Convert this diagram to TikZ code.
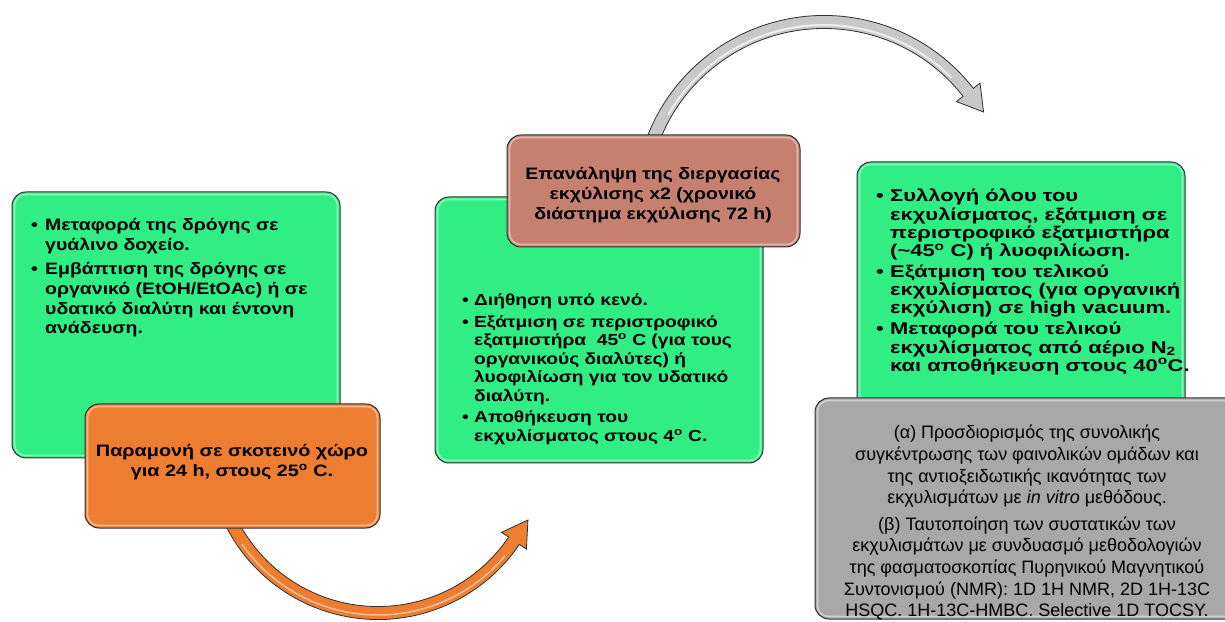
\documentclass[tikz,border=0pt]{standalone}
\usepackage{fontspec}
\setmainfont{Liberation Sans}
\newfontfamily\fA[FakeStretch=1.18]{Liberation Sans}
\newfontfamily\fB[FakeStretch=1.2]{Liberation Sans}
\newfontfamily\fC[FakeStretch=1.29]{Liberation Sans}
\usetikzlibrary{calc}
\definecolor{gfill}{RGB}{48,238,132}
\definecolor{ofill}{RGB}{237,125,49}
\definecolor{bfill}{RGB}{198,128,112}
\definecolor{grayfill}{RGB}{168,168,168}
\definecolor{arrowgray}{RGB}{200,200,200}
\definecolor{edge}{RGB}{45,50,45}
\newcommand{\gbf}{\fA\fontsize{16.5}{19.8}\selectfont\bfseries}
\newcommand{\gbo}{\fB\fontsize{16.5}{20}\selectfont\bfseries}
\newcommand{\gbt}{\fB\fontsize{16}{18.5}\selectfont\bfseries}
\newcommand{\gbs}{\fC\fontsize{17}{18}\selectfont\bfseries}
\newcommand{\gry}{\fontsize{18}{21.6}\selectfont}
\newcommand{\bu}{\textbullet}
\begin{document}
\begin{tikzpicture}[x=1pt,y=1pt,
  box/.style={draw=edge, line width=1pt, rounded corners=14pt, inner sep=0pt},
  hl/.style={draw=white, opacity=0.45, line width=1.6pt, rounded corners=11pt},
  band/.style={draw=edge, line width=0.8pt},
  txt/.style={inner sep=0pt, anchor=base west},
  ctxt/.style={inner sep=0pt, anchor=base}]
\useasboundingbox (0,0) rectangle (1225,621);
\clip (0,0) rectangle (1225,621);
\fill[white] (0,0) rectangle (1225,621);
% arc centres
\coordinate (co) at (378,172);
\coordinate (cg) at (824,416);
% orange curved arrow
\draw[band, fill=ofill]
  ($(co)+(203:170.5pt)$) arc[start angle=203, end angle=326, radius=170.5pt]
  -- ($(co)+(326:179pt)$) -- ($(co)+(326:164pt)+(56:25pt)$) -- ($(co)+(326:149pt)$)
  -- ($(co)+(326:157.5pt)$) arc[start angle=326, end angle=203, radius=157.5pt] -- cycle;
\draw[white, opacity=0.5, line width=1.5pt] ($(co)+(215:166pt)$) arc[start angle=215, end angle=320, radius=166pt];
% gray curved arrow
\draw[band, fill=arrowgray]
  ($(cg)+(162:189.5pt)$) arc[start angle=162, end angle=38, radius=189.5pt]
  -- ($(cg)+(38:198pt)$) -- ($(cg)+(38:183pt)+(-52:25pt)$) -- ($(cg)+(38:168pt)$)
  -- ($(cg)+(38:176.5pt)$) arc[start angle=38, end angle=162, radius=176.5pt] -- cycle;
\draw[white, opacity=0.7, line width=2pt] ($(cg)+(150:180pt)$) arc[start angle=150, end angle=45, radius=180pt];
% boxes
\node[box, fill=gfill, minimum width=328pt, minimum height=266pt] (g1) at (176,296) {};
\draw[hl] ([shift={(3pt,3pt)}]g1.south west) rectangle ([shift={(-3pt,-3pt)}]g1.north east);
\node[box, fill=ofill, minimum width=295pt, minimum height=124pt] (o1) at (232.5,155) {};
\draw[hl] ([shift={(3pt,3pt)}]o1.south west) rectangle ([shift={(-3pt,-3pt)}]o1.north east);
\node[box, fill=gfill, minimum width=328pt, minimum height=266pt] (g2) at (599,291) {};
\draw[hl] ([shift={(3pt,3pt)}]g2.south west) rectangle ([shift={(-3pt,-3pt)}]g2.north east);
\node[box, fill=bfill, minimum width=293pt, minimum height=112pt] (b1) at (653.5,430) {};
\draw[hl] ([shift={(3pt,3pt)}]b1.south west) rectangle ([shift={(-3pt,-3pt)}]b1.north east);
\node[box, fill=gfill, minimum width=328pt, minimum height=258pt] (g3) at (1021,330) {};
\draw[hl] ([shift={(3pt,3pt)}]g3.south west) rectangle ([shift={(-3pt,-3pt)}]g3.north east);
\node[box, fill=grayfill, minimum width=425pt, minimum height=221pt] (r1) at (1027.5,112.5) {};
\draw[hl] ([shift={(3pt,3pt)}]r1.south west) rectangle ([shift={(-3pt,-3pt)}]r1.north east);
% texts
\node[txt] (t1) at (31,390) {\gbf\begin{tabular}[t]{@{}p{14pt}@{}l@{}}
\bu & Μεταφορά της δρόγης σε\\
    & γυάλινο δοχείο.\\[4pt]
\bu & Εμβάπτιση της δρόγης σε\\
    & οργανικό (EtOH/EtOAc) ή σε\\
    & υδατικό διαλύτη και έντονη\\
    & ανάδευση.
\end{tabular}};
\node[ctxt] (t2) at (232,164) {\gbo\begin{tabular}[t]{@{}c@{}}
Παραμονή σε σκοτεινό χώρο\\
για 24 h, στους 25\textsuperscript{o} C.
\end{tabular}};
\node[ctxt] (t3) at (653,441) {\gbf\begin{tabular}[t]{@{}c@{}}
Επανάληψη της διεργασίας\\
εκχύλισης x2 (χρονικό\\
διάστημα εκχύλισης 72 h)
\end{tabular}};
\node[txt] (t4) at (462,315) {\gbt\begin{tabular}[t]{@{}p{12pt}@{}l@{}}
\bu & Διήθηση υπό κενό.\\[3pt]
\bu & Εξάτμιση σε περιστροφικό\\
    & εξατμιστήρα\ \ 45\textsuperscript{o} C (για τους\\
    & οργανικούς διαλύτες) ή\\
    & λυοφιλίωση για τον υδατικό\\
    & διαλύτη.\\[3pt]
\bu & Αποθήκευση του\\
    & εκχυλίσματος στους 4\textsuperscript{o} C.
\end{tabular}};
\node[txt] (t5) at (876,419) {\gbs\begin{tabular}[t]{@{}p{14pt}@{}l@{}}
\bu & Συλλογή όλου του\\
    & εκχυλίσματος, εξάτμιση σε\\
    & περιστροφικό εξατμιστήρα\\
    & (\textasciitilde45\textsuperscript{o} C) ή λυοφιλίωση.\\[3pt]
\bu & Εξάτμιση του τελικού\\
    & εκχυλίσματος (για οργανική\\
    & εκχύλιση) σε high vacuum.\\[3pt]
\bu & Μεταφορά του τελικού\\
    & εκχυλίσματος από αέριο N\textsubscript{2}\\
    & και αποθήκευση στους 40\textsuperscript{o}C.
\end{tabular}};
\node[ctxt] (t6) at (1027,182) {\gry\begin{tabular}[t]{@{}c@{}}
(α) Προσδιορισμός της συνολικής\\
συγκέντρωσης των φαινολικών ομάδων και\\
της αντιοξειδωτικής ικανότητας των\\
εκχυλισμάτων με \textit{in vitro} μεθόδους.\\[5pt]
(β) Ταυτοποίηση των συστατικών των\\
εκχυλισμάτων με συνδυασμό μεθοδολογιών\\
της φασματοσκοπίας Πυρηνικού Μαγνητικού\\
Συντονισμού (NMR): 1D 1H NMR, 2D 1H-13C\\
HSQC. 1H-13C-HMBC. Selective 1D TOCSY.
\end{tabular}};
\end{tikzpicture}
\end{document}
